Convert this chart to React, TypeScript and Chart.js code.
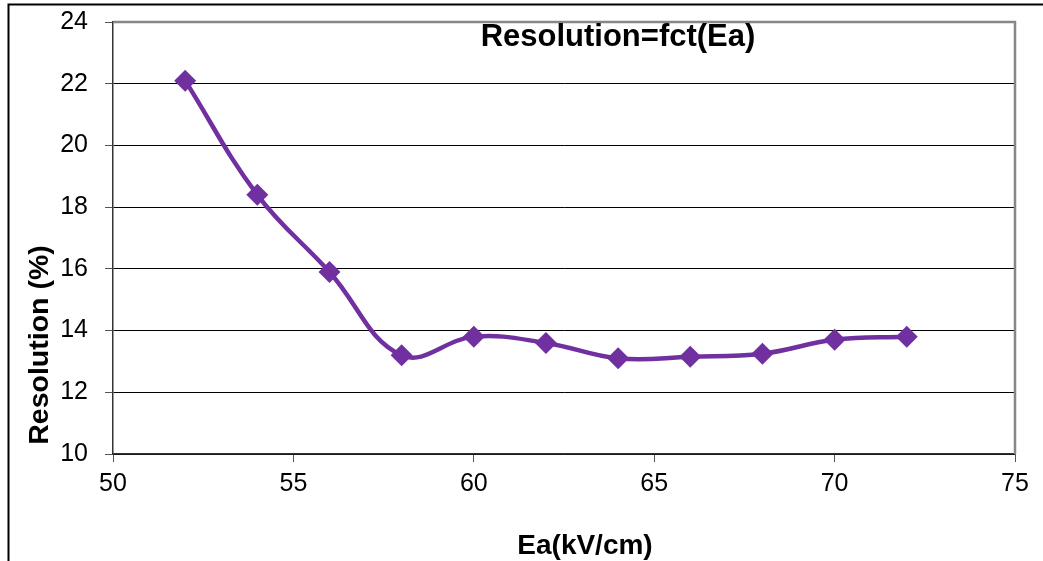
import React, { useEffect, useRef } from "react";
import { Chart, registerables } from "chart.js";

Chart.register(...registerables);

const eaValues = [52, 54, 56, 58, 60, 62, 64, 66, 68, 70, 72];
const resolutionValues = [22.1, 18.4, 15.9, 13.2, 13.8, 13.6, 13.1, 13.15, 13.25, 13.7, 13.8];
const chartTitle = "Resolution=fct(Ea)";
const xTitle = "Ea(kV/cm)";
const yTitle = "Resolution (%)";

const FONT = '"Liberation Sans", Arial, sans-serif';
const PURPLE = "#7030A0";

const decorPlugin = {
  id: "decor",
  afterDraw(chart: any) {
    const { ctx, chartArea } = chart;
    const { left, right, top, bottom } = chartArea;
    ctx.save();
    // plot frame top/right (gray)
    ctx.strokeStyle = "#878787";
    ctx.lineWidth = 2.5;
    ctx.beginPath();
    ctx.moveTo(left, top);
    ctx.lineTo(right, top);
    ctx.lineTo(right, bottom);
    ctx.stroke();
    // outer frame
    ctx.strokeStyle = "#000";
    ctx.lineWidth = 2;
    ctx.beginPath();
    ctx.moveTo(1043, 4.5);
    ctx.lineTo(8.5, 4.5);
    ctx.lineTo(8.5, 561);
    ctx.stroke();
    // texts
    ctx.fillStyle = "#000";
    ctx.textAlign = "center";
    ctx.textBaseline = "alphabetic";
    ctx.font = `bold 31px ${FONT}`;
    ctx.fillText(chartTitle, 618, top + 24);
    ctx.font = `bold 28px ${FONT}`;
    ctx.fillText(xTitle, 585, 554);
    ctx.translate(48, 345);
    ctx.rotate(-Math.PI / 2);
    ctx.font = `bold 28.5px ${FONT}`;
    ctx.fillText(yTitle, 0, 0);
    ctx.restore();
  },
};

export default function App() {
  const canvasRef = useRef<HTMLCanvasElement | null>(null);

  useEffect(() => {
    if (!canvasRef.current) return;
    const chart = new Chart(canvasRef.current, {
      type: "line",
      data: {
        datasets: [
          {
            data: eaValues.map((x, i) => ({ x, y: resolutionValues[i] })),
            borderColor: PURPLE,
            backgroundColor: PURPLE,
            borderWidth: 4.5,
            tension: 0.4,
            pointStyle: "rectRot",
            pointRadius: 11,
            pointBorderWidth: 0,
            pointBackgroundColor: PURPLE,
            fill: false,
          },
        ],
      },
      options: {
        animation: false,
        responsive: false,
        layout: { padding: { left: 0, top: 22, right: 28, bottom: 0 } },
        plugins: {
          legend: { display: false },
          tooltip: { enabled: false },
          title: { display: false },
        },
        scales: {
          x: {
            type: "linear",
            min: 50,
            max: 75,
            afterFit(scale: any) {
              scale.height = 107;
              scale.paddingTop = 0;
              scale.paddingBottom = 0;
            },
            ticks: {
              stepSize: 5,
              color: "#000",
              font: { family: FONT, size: 25 },
              padding: 7,
              maxRotation: 0,
            },
            grid: {
              drawOnChartArea: false,
              drawTicks: true,
              tickLength: 8,
              tickColor: "#555",
            },
            border: { display: true, color: "#333", width: 1.5 },
          },
          y: {
            type: "linear",
            min: 10,
            max: 24,
            afterFit(scale: any) {
              scale.width = 113;
              scale.paddingTop = 0;
              scale.paddingBottom = 0;
            },
            ticks: {
              stepSize: 2,
              color: "#000",
              font: { family: FONT, size: 25 },
              padding: 17,
            },
            grid: {
              color: "#000",
              lineWidth: 1,
              drawTicks: true,
              tickLength: 8,
              tickColor: "#555",
            },
            border: { display: true, color: "#333", width: 1.5 },
          },
        },
      },
      plugins: [decorPlugin],
    });
    return () => chart.destroy();
  }, []);

  return (
    <div style={{ position: "fixed", left: 0, top: 0, width: 1043, height: 561, background: "#fff" }}>
      <canvas ref={canvasRef} width={1043} height={561} style={{ display: "block" }} />
    </div>
  );
}
